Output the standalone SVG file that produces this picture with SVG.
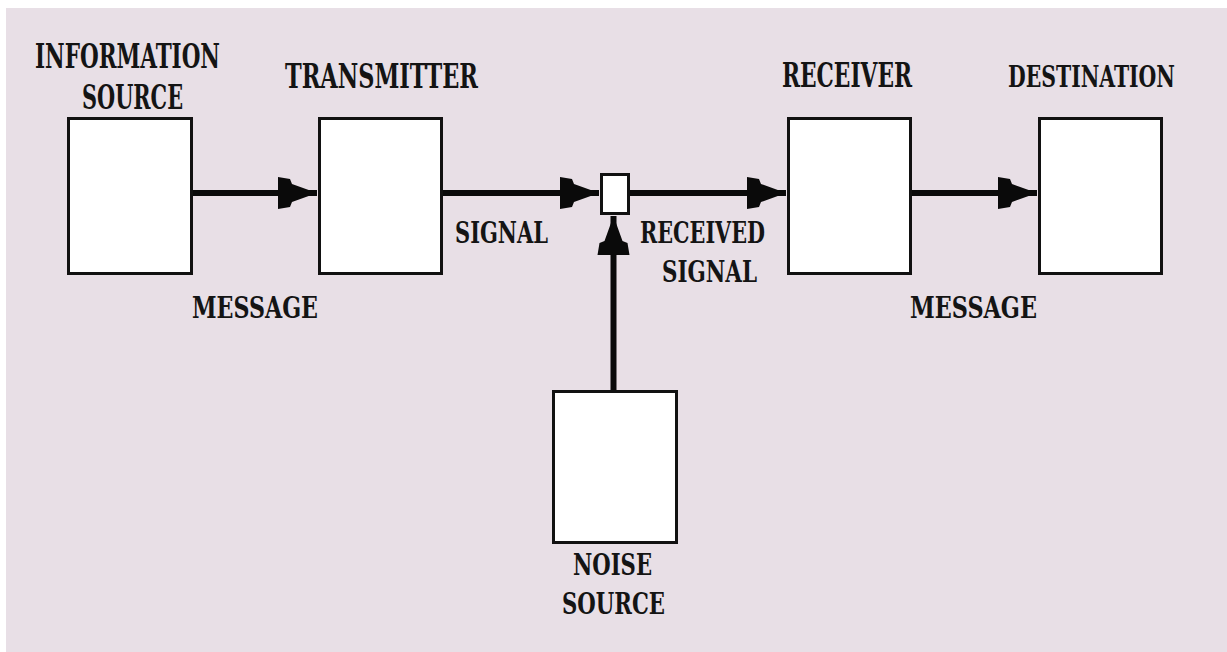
<svg xmlns="http://www.w3.org/2000/svg" width="1227" height="652" viewBox="0 0 1227 652">
<defs>
<style>
.box{fill:#ffffff;stroke:#111111;stroke-width:3}
.conn{stroke:#0a0a0a;stroke-width:6;fill:none;stroke-linecap:butt}
.t{font-family:"DejaVu Serif Condensed","DejaVu Serif","Liberation Serif",serif;font-weight:bold;fill:#141414;font-size:33px}
.l{font-size:30px}
</style>
<marker id="ah" viewBox="0 0 40 34" markerUnits="userSpaceOnUse" markerWidth="40" markerHeight="34" refX="40" refY="17" orient="auto">
<path d="M40,17 L15,8 L13,3 L1,1 L1,33 L13,31 L15,26 Z" fill="#0a0a0a"/>
</marker>
</defs>
<rect x="0" y="0" width="1227" height="652" fill="#ffffff"/>
<rect x="6" y="8" width="1221" height="644" fill="#e8dfe6"/>

<g id="connectors">
<line class="conn" x1="193" y1="193" x2="317" y2="193" marker-end="url(#ah)"/>
<line class="conn" x1="443" y1="193" x2="599" y2="193" marker-end="url(#ah)"/>
<line class="conn" x1="630" y1="193" x2="786" y2="193" marker-end="url(#ah)"/>
<line class="conn" x1="912" y1="193" x2="1037" y2="193" marker-end="url(#ah)"/>
<line class="conn" x1="613.5" y1="390" x2="613.5" y2="216" marker-end="url(#ah)"/>
</g>

<g id="information-source">
<rect class="box" x="68.5" y="118.5" width="123" height="155"/>
<text class="t" x="35" y="68" textLength="185" lengthAdjust="spacingAndGlyphs">INFORMATION</text>
<text class="t" x="82" y="109" textLength="101" lengthAdjust="spacingAndGlyphs">SOURCE</text>
</g>

<g id="transmitter">
<rect class="box" x="319.5" y="118.5" width="122" height="155"/>
<text class="t" x="285" y="88" textLength="193" lengthAdjust="spacingAndGlyphs">TRANSMITTER</text>
</g>

<g id="channel">
<rect class="box" x="601.5" y="174.5" width="27" height="39"/>
</g>

<g id="receiver">
<rect class="box" x="788.5" y="118.5" width="122" height="155"/>
<text class="t" x="782" y="87" textLength="130" lengthAdjust="spacingAndGlyphs">RECEIVER</text>
</g>

<g id="destination">
<rect class="box" x="1039.5" y="118.5" width="122" height="155"/>
<text class="t" x="1091.5" y="87" text-anchor="middle" style="font-size:30px" textLength="167" lengthAdjust="spacingAndGlyphs">DESTINATION</text>
</g>

<g id="noise-source">
<rect class="box" x="553.5" y="391.5" width="123" height="151"/>
<text class="t l" x="573" y="575" textLength="79" lengthAdjust="spacingAndGlyphs">NOISE</text>
<text class="t l" x="562" y="614" textLength="103" lengthAdjust="spacingAndGlyphs">SOURCE</text>
</g>

<g id="labels">
<text class="t l" x="192" y="318" textLength="126" lengthAdjust="spacingAndGlyphs">MESSAGE</text>
<text class="t l" x="455" y="243" textLength="93" lengthAdjust="spacingAndGlyphs">SIGNAL</text>
<text class="t l" x="640" y="243" textLength="125" lengthAdjust="spacingAndGlyphs">RECEIVED</text>
<text class="t l" x="662" y="282" textLength="95" lengthAdjust="spacingAndGlyphs">SIGNAL</text>
<text class="t l" x="910" y="318" textLength="127" lengthAdjust="spacingAndGlyphs">MESSAGE</text>
</g>
</svg>
